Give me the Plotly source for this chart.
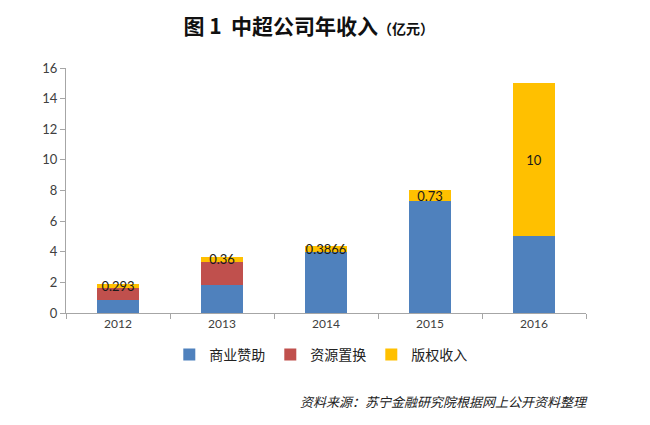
import plotly.graph_objects as go

years = ["2012", "2013", "2014", "2015", "2016"]
sponsor = [0.85, 1.85, 4.0, 7.3, 5.0]        # 商业赞助
exchange = [0.78, 1.48, 0.0, 0.0, 0.0]       # 资源置换
rights = [0.293, 0.36, 0.3866, 0.73, 10]     # 版权收入
rights_labels = ["0.293", "0.36", "0.3866", "0.73", "10"]
y_ticks = [0, 2, 4, 6, 8, 10, 12, 14, 16]

fig = go.Figure()
fig.add_trace(go.Bar(x=years, y=sponsor, name="商业赞助", marker_color="#4F81BD", marker_line_width=0))
fig.add_trace(go.Bar(x=years, y=exchange, name="资源置换", marker_color="#C0504D", marker_line_width=0))
fig.add_trace(go.Bar(x=years, y=rights, name="版权收入", marker_color="#FFC000", marker_line_width=0,
                     text=rights_labels, textposition="inside", insidetextanchor="middle",
                     textfont=dict(family="Lato, Open Sans, sans-serif", size=13, color="#1a1a1a"),
                     constraintext="none"))

fig.update_layout(
    barmode="stack",
    bargap=0.6,
    width=650, height=425,
    margin=dict(l=66, r=64, t=68, b=112),
    paper_bgcolor="white", plot_bgcolor="white",
    uniformtext=dict(minsize=13, mode="show"),
    font=dict(family="Lato, Noto Sans CJK SC, sans-serif", color="#404040"),
    title=dict(
        text="<b>图 1  中超公司年收入</b><b><span style='font-size:14px'>（亿元）</span></b>",
        x=0.475, xanchor="center", y=0.937, yanchor="middle",
        font=dict(family="Noto Sans CJK SC", size=21, color="#111111"),
    ),
    legend=dict(orientation="h", x=0.49, xanchor="center", y=-0.171, yanchor="middle",
                font=dict(family="Noto Sans CJK SC", size=14, color="#222222"),
                traceorder="normal", itemwidth=30),
    showlegend=True,
)
fig.update_xaxes(type="category", showline=True, linecolor="#A6A6A6", linewidth=1,
                 ticks="outside", tickson="boundaries", ticklen=5, tickcolor="#A6A6A6",
                 tickfont=dict(family="Lato, Open Sans, sans-serif", size=12, color="#404040"),
                 showgrid=False)
fig.update_yaxes(range=[0, 16], tickvals=y_ticks, showline=True, linecolor="#A6A6A6", linewidth=1,
                 ticks="outside", ticklen=5, tickcolor="#A6A6A6", showgrid=False, zeroline=False,
                 tickfont=dict(family="Lato, Open Sans, sans-serif", size=13, color="#404040"))

fig.add_annotation(text="<i>资料来源：苏宁金融研究院根据网上公开资料整理</i>",
                   xref="paper", yref="paper", x=1.008, y=-0.363, xanchor="right", yanchor="middle",
                   showarrow=False, font=dict(family="Noto Sans CJK SC", size=13, color="#222222"))

fig.write_html("out.html")
